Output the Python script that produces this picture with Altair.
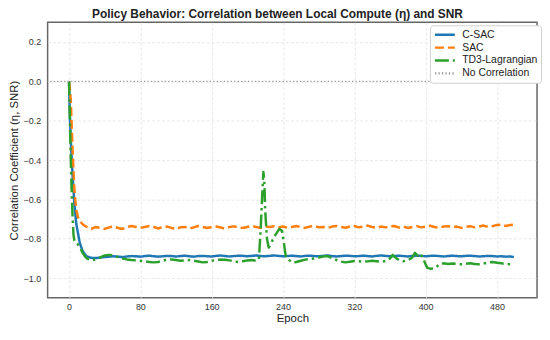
import altair as alt
import pandas as pd

series_names = ["C-SAC", "SAC", "TD3-Lagrangian", "No Correlation"]
series_colors = ["#1f77b4", "#ff7f0e", "#2ca02c", "#9a9a9a"]
series_dashes = [[1, 0], [9, 4], [14, 4, 2.5, 4], [1.3, 2.2]]

x_ticks = [0, 80, 160, 240, 320, 400, 480]
y_ticks = [-1.0, -0.8, -0.6, -0.4, -0.2, 0.0, 0.2]

# epochs shared by C-SAC and SAC
base_epochs = [0, 1, 2, 4, 6, 8, 10, 12, 15, 18, 20] + list(range(25, 500, 5)) + [499]

csac_values = [
    0.0, -0.18, -0.3, -0.48, -0.62, -0.72, -0.77, -0.82, -0.86, -0.88, -0.89,
    -0.897, -0.898, -0.896, -0.893, -0.891, -0.889, -0.891, -0.893, -0.890, -0.888,
    -0.889, -0.891, -0.888, -0.886, -0.889, -0.891, -0.889, -0.887, -0.888, -0.890,
    -0.888, -0.886, -0.889, -0.891, -0.888, -0.887, -0.889, -0.890, -0.887, -0.885,
    -0.888, -0.890, -0.888, -0.886, -0.887, -0.889, -0.887, -0.885, -0.888, -0.889,
    -0.887, -0.885, -0.887, -0.889, -0.888, -0.886, -0.888, -0.890, -0.887, -0.886,
    -0.888, -0.889, -0.887, -0.885, -0.888, -0.890, -0.888, -0.886, -0.887, -0.889,
    -0.888, -0.886, -0.888, -0.890, -0.887, -0.885, -0.887, -0.889, -0.888, -0.886,
    -0.888, -0.890, -0.888, -0.886, -0.887, -0.889, -0.887, -0.886, -0.888, -0.890,
    -0.888, -0.886, -0.888, -0.889, -0.887, -0.886, -0.888, -0.890, -0.889, -0.887,
    -0.888, -0.890, -0.889, -0.891, -0.890,
    -0.893,
]

sac_values = [
    0.0, -0.04, -0.1, -0.35, -0.55, -0.65, -0.69, -0.71, -0.725, -0.735, -0.74,
    -0.75, -0.74, -0.745, -0.75, -0.742, -0.738, -0.745, -0.75, -0.74, -0.735,
    -0.74, -0.745, -0.74, -0.735, -0.74, -0.748, -0.74, -0.738, -0.745, -0.75,
    -0.742, -0.74, -0.748, -0.742, -0.735, -0.74, -0.745, -0.74, -0.738, -0.743,
    -0.748, -0.74, -0.737, -0.742, -0.745, -0.74, -0.735, -0.74, -0.745, -0.738,
    -0.74, -0.736, -0.742, -0.738, -0.744, -0.74, -0.735, -0.741, -0.745, -0.738,
    -0.735, -0.742, -0.74, -0.745, -0.738, -0.735, -0.74, -0.744, -0.738, -0.735,
    -0.742, -0.738, -0.733, -0.74, -0.745, -0.738, -0.742, -0.737, -0.735, -0.743,
    -0.738, -0.745, -0.74, -0.736, -0.742, -0.738, -0.734, -0.74, -0.745, -0.738,
    -0.736, -0.742, -0.738, -0.745, -0.74, -0.736, -0.742, -0.738, -0.733, -0.74,
    -0.736, -0.73, -0.728, -0.735, -0.73,
    -0.728,
]

td3_epochs = (
    [0, 1, 2, 3, 4, 5, 6, 8, 11, 13, 15, 18, 20]
    + list(range(25, 215, 5))
    + [213, 215, 217, 218, 219, 220, 222, 224, 226, 228, 230, 233, 236, 239, 241, 243, 246]
    + list(range(250, 360, 5))
    + [360, 363, 366, 370, 375, 380, 385, 388, 391, 394, 397, 400, 402, 405, 410, 413, 416]
    + list(range(420, 500, 5))
    + [499]
)

td3_values = [
    0.0, -0.2, -0.4, -0.56, -0.69, -0.78, -0.81, -0.82, -0.835, -0.85, -0.87, -0.89, -0.9,
    -0.91, -0.905, -0.895, -0.885, -0.882, -0.885, -0.893, -0.9, -0.905, -0.908,
    -0.91, -0.912, -0.915, -0.918, -0.92, -0.918, -0.912, -0.906, -0.905, -0.908,
    -0.912, -0.91, -0.908, -0.912, -0.916, -0.92, -0.918, -0.912, -0.908, -0.906,
    -0.907, -0.91, -0.915, -0.918, -0.914, -0.91, -0.908, -0.912,
    -0.905, -0.75, -0.55, -0.46, -0.5, -0.65, -0.8, -0.845, -0.83, -0.81, -0.79,
    -0.77, -0.75, -0.76, -0.82, -0.886, -0.905,
    -0.92, -0.918, -0.912, -0.906, -0.902, -0.9, -0.895, -0.89, -0.888, -0.898,
    -0.908, -0.916, -0.92, -0.917, -0.913, -0.914, -0.917, -0.915, -0.912, -0.914,
    -0.917, -0.913,
    -0.9, -0.882, -0.895, -0.908, -0.914, -0.91, -0.895, -0.872, -0.886, -0.876,
    -0.9, -0.93, -0.948, -0.952, -0.95, -0.94, -0.928,
    -0.925, -0.928, -0.926, -0.928, -0.93, -0.927, -0.925, -0.928, -0.93, -0.926,
    -0.921, -0.918, -0.922, -0.925, -0.928, -0.93,
    -0.928,
]

zero_line = [0.0]

df = pd.concat([
    pd.DataFrame({"epoch": base_epochs, "value": csac_values, "series": "C-SAC"}),
    pd.DataFrame({"epoch": base_epochs, "value": sac_values, "series": "SAC"}),
    pd.DataFrame({"epoch": td3_epochs, "value": td3_values, "series": "TD3-Lagrangian"}),
], ignore_index=True)
df_zero = pd.DataFrame({"value": zero_line, "series": ["No Correlation"]})

FONT = "Liberation Sans"

def make_legend():
    return alt.Legend(orient="none", legendX=386, legendY=3, padding=3,
                      clipHeight=13, rowPadding=0, symbolType="stroke",
                      symbolSize=400, symbolStrokeWidth=2.5, symbolOffset=0.5,
                      labelOffset=6, labelFontSize=10.5, labelFont=FONT,
                      labelColor="#222", fillColor="white",
                      strokeColor="#d0d0d0", cornerRadius=3)

color_enc = alt.Color("series:N", scale=alt.Scale(domain=series_names, range=series_colors),
                      title=None, legend=make_legend())
dash_enc = alt.StrokeDash("series:N", scale=alt.Scale(domain=series_names, range=series_dashes),
                          title=None, legend=make_legend())

x_enc = alt.X("epoch:Q", scale=alt.Scale(domain=[-24, 525], nice=False, zero=False),
              axis=alt.Axis(values=x_ticks, title="Epoch", labelPadding=5, titlePadding=1))
y_enc = alt.Y("value:Q", scale=alt.Scale(domain=[-1.1, 0.3], nice=False, zero=False),
              axis=alt.Axis(values=y_ticks, format=".1f", title="Correlation Coefficient (η, SNR)",
                            labelPadding=7, titlePadding=4))

lines = alt.Chart(df).mark_line(strokeWidth=2.5, strokeCap="butt", strokeJoin="round").encode(
    x=x_enc, y=y_enc, color=color_enc, strokeDash=dash_enc,
    detail="series:N",
)

rule = alt.Chart(df_zero).mark_rule(strokeWidth=1.3).encode(
    y=alt.Y("value:Q"), color=color_enc, strokeDash=dash_enc,
)

chart = alt.layer(lines, rule).properties(
    width=494, height=278,
    padding={"left": 0, "top": -1, "right": 0, "bottom": 0},
    title=alt.Title("Policy Behavior: Correlation between Local Compute (η) and SNR",
                    fontSize=12, font=FONT, fontWeight="bold", color="#222",
                    offset=1, anchor="middle", dx=-15),
).configure(font=FONT).configure_view(
    stroke="#666666", strokeWidth=1.5,
).configure_axis(
    grid=True, gridColor="#e3e3e3", gridDash=[3, 2], gridWidth=0.8,
    domain=False, ticks=False,
    labelFont=FONT, labelFontSize=9, labelColor="#333",
    titleFont=FONT, titleFontSize=11.5, titleColor="#222", titleFontWeight="normal",
)

chart.save("out.html", embed_options={"renderer": "svg", "actions": False})
